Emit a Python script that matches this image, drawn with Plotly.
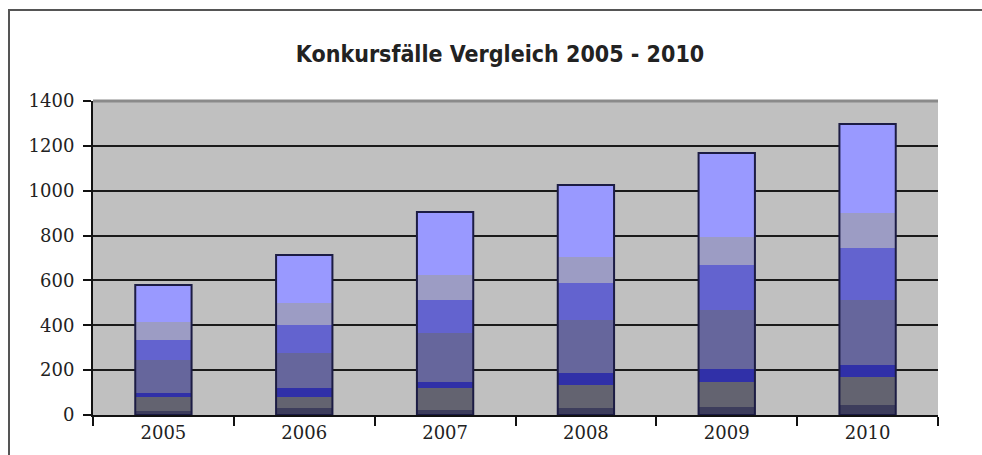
import plotly.graph_objects as go
import numpy as np

years = ["2005", "2006", "2007", "2008", "2009", "2010"]
# stacked segments, bottom to top
seg1 = [18, 31, 22, 31, 36, 45]
seg2 = [62, 49, 98, 103, 111, 124]
seg3 = [18, 40, 27, 53, 58, 54]
seg4 = [147, 156, 219, 237, 263, 290]
seg5 = [89, 125, 147, 165, 201, 232]
seg6 = [81, 98, 111, 116, 125, 156]
seg7 = [165, 214, 281, 321, 374, 397]
y_ticks = [0, 200, 400, 600, 800, 1000, 1200, 1400]

segments = [seg1, seg2, seg3, seg4, seg5, seg6, seg7]
colors = ["#3d3d5c", "#636370", "#3030a8", "#66669c", "#6363cf", "#9c9cc4", "#9999ff"]

fig = go.Figure()
base = np.zeros(len(years))
for seg, col in zip(segments, colors):
    vals = np.array(seg, dtype=float)
    fig.add_trace(go.Bar(x=years, y=vals, base=base.copy(), marker=dict(color=col, line=dict(width=0)),
                         showlegend=False, hoverinfo="skip"))
    base = base + vals
totals = base
fig.add_trace(go.Bar(x=years, y=totals, base=[0] * len(years),
                     marker=dict(color="rgba(0,0,0,0)", line=dict(color="#1c1c44", width=2)),
                     showlegend=False, hoverinfo="skip"))

W, H = 982, 455
L, R, T, B = 93, 938, 101, 415
pw, ph = R - L, B - T
def px(x):
    return (x - L) / pw
def py(y):
    return (B - y) / ph

tick_font = dict(family="DejaVu Serif, serif", size=18, color="#222222")

fig.update_layout(
    width=W, height=H, autosize=False,
    margin=dict(l=L, r=W - R, t=T, b=H - B, pad=0),
    paper_bgcolor="white", plot_bgcolor="#c0c0c0",
    barmode="overlay", bargap=0.6,
    title=dict(text="<b>Konkursfälle Vergleich 2005 - 2010</b>",
               font=dict(family="DejaVu Sans Condensed, sans-serif", size=23, color="#222222"),
               x=500 / W, xref="container", xanchor="center",
               y=1 - 54 / H, yref="container", yanchor="middle"),
    xaxis=dict(showline=True, linecolor="#111111", linewidth=2, ticks="outside", tickson="boundaries",
               ticklen=9, tickwidth=2, tickcolor="#111111", tickfont=tick_font, showgrid=False),
    yaxis=dict(range=[0, 1400], tickvals=y_ticks, showline=True, linecolor="#111111", linewidth=2,
               ticks="outside", ticklen=8, tickwidth=2, tickcolor="#111111", tickfont=tick_font,
               ticklabelstandoff=5,
               showgrid=True, gridcolor="#1a1a1a", gridwidth=2, zeroline=False),
    shapes=[
        dict(type="rect", xref="paper", yref="paper", x0=px(9), x1=px(1200), y0=py(700), y1=py(10),
             line=dict(color="#555555", width=2), fillcolor="rgba(0,0,0,0)", layer="below"),
        dict(type="line", xref="paper", yref="paper", x0=0, x1=1, y0=1, y1=1,
             line=dict(color="#8a8a8a", width=3)),
        dict(type="line", xref="paper", yref="paper", x0=0, x1=0, y0=0, y1=py(425),
             line=dict(color="#111111", width=2)),
    ],
)

fig.write_html("out.html", config={"displayModeBar": False})
with open("out.html", "r", encoding="utf-8") as f:
    html = f.read()
html = html.replace("<head>", "<head><style>html,body{margin:0;padding:0;overflow:hidden;}</style>", 1)
with open("out.html", "w", encoding="utf-8") as f:
    f.write(html)
